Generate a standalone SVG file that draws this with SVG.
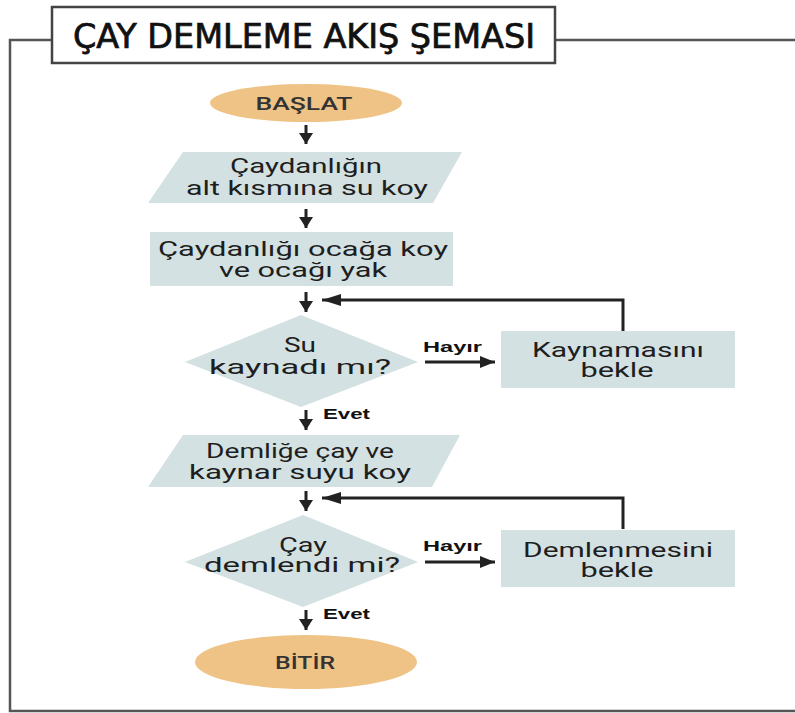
<svg xmlns="http://www.w3.org/2000/svg" width="795" height="713" viewBox="0 0 795 713">
<style>
  .frame { fill: none; stroke: #555; stroke-width: 2.5; }
  .node { fill: #d3e1e2; }
  .term { fill: #efc386; }
  .t { font-family: Roboto, "Liberation Sans", sans-serif; font-size: 20px; fill: #1e1e1e; text-anchor: middle; }
  .tt { font-family: Roboto, "Liberation Sans", sans-serif; font-size: 18px; fill: #333; text-anchor: middle; font-weight: 500; }
  .lbl { font-family: "Liberation Sans", Arial, sans-serif; font-size: 15px; font-weight: bold; fill: #111; }
  .title { font-family: "DejaVu Sans", sans-serif; font-size: 34px; fill: #111; font-stretch: condensed; stroke: #111; stroke-width: 0.7; }
  .c { stroke: #222; stroke-width: 3; fill: none; }
</style>
<defs>
  <marker id="ad" markerUnits="userSpaceOnUse" markerWidth="14" markerHeight="14" refX="11" refY="7" orient="auto">
    <path d="M0,0 L11,7 L0,14 z" fill="#222"/>
  </marker>
  <marker id="ah" markerUnits="userSpaceOnUse" markerWidth="16" markerHeight="12" refX="15" refY="6" orient="auto">
    <path d="M0,0 L15,6 L0,12 z" fill="#222"/>
  </marker>
  <marker id="af" markerUnits="userSpaceOnUse" markerWidth="20" markerHeight="12" refX="19" refY="6" orient="auto">
    <path d="M0,0 L19,6 L0,12 z" fill="#222"/>
  </marker>
</defs>
<rect width="795" height="713" fill="#ffffff"/>

<g id="frame">
  <polyline class="frame" points="52,40 10,40 10,711 795,711"/>
  <line class="frame" x1="555" y1="40" x2="795" y2="40"/>
  <rect x="52" y="7" width="503" height="56" fill="#fff" stroke="#444" stroke-width="2.5"/>
  <text class="title" x="304" y="48" text-anchor="middle" textLength="462" lengthAdjust="spacingAndGlyphs">ÇAY DEMLEME AKIŞ ŞEMASI</text>
</g>

<g id="connectors">
  <line class="c" x1="306" y1="125" x2="306" y2="144" marker-end="url(#ad)"/>
  <line class="c" x1="306" y1="209" x2="306" y2="228" marker-end="url(#ad)"/>
  <line class="c" x1="306" y1="292" x2="306" y2="312" marker-end="url(#ad)"/>
  <polyline class="c" points="623,331 623,300 322,300" marker-end="url(#af)"/>
  <line class="c" x1="425" y1="362" x2="495" y2="362" stroke-width="2.5" marker-end="url(#ah)"/>
  <line class="c" x1="306" y1="410" x2="306" y2="430" marker-end="url(#ad)"/>
  <line class="c" x1="306" y1="491" x2="306" y2="511" marker-end="url(#ad)"/>
  <polyline class="c" points="623,529 623,498 322,498" marker-end="url(#af)"/>
  <line class="c" x1="425" y1="562" x2="495" y2="562" stroke-width="2.5" marker-end="url(#ah)"/>
  <line class="c" x1="306" y1="610" x2="306" y2="630" marker-end="url(#ad)"/>
  <text class="lbl" x="423" y="352" textLength="59" lengthAdjust="spacingAndGlyphs">Hayır</text>
  <text class="lbl" x="323" y="419" textLength="47" lengthAdjust="spacingAndGlyphs">Evet</text>
  <text class="lbl" x="423" y="551" textLength="59" lengthAdjust="spacingAndGlyphs">Hayır</text>
  <text class="lbl" x="323" y="619" textLength="47" lengthAdjust="spacingAndGlyphs">Evet</text>
</g>

<g id="start">
  <ellipse class="term" cx="306" cy="103" rx="96" ry="19"/>
  <text class="tt" x="304" y="110" textLength="97" lengthAdjust="spacingAndGlyphs">BAŞLAT</text>
</g>

<g id="input1">
  <polygon class="node" points="183,152 462,152 433,203 148,203"/>
  <text class="t" x="306" y="173" textLength="152" lengthAdjust="spacingAndGlyphs">Çaydanlığın</text>
  <text class="t" x="307" y="195" textLength="242" lengthAdjust="spacingAndGlyphs">alt kısmına su koy</text>
</g>

<g id="process1">
  <rect class="node" x="150" y="232" width="303" height="54"/>
  <text class="t" x="303" y="256" textLength="290" lengthAdjust="spacingAndGlyphs">Çaydanlığı ocağa koy</text>
  <text class="t" x="303" y="277" textLength="168" lengthAdjust="spacingAndGlyphs">ve ocağı yak</text>
</g>

<g id="decision1">
  <polygon class="node" points="185,362 301,315 418,362 301,407"/>
  <text class="t" x="300" y="352" textLength="32" lengthAdjust="spacingAndGlyphs">Su</text>
  <text class="t" x="300" y="374" textLength="182" lengthAdjust="spacingAndGlyphs">kaynadı mı?</text>
</g>

<g id="wait1">
  <rect class="node" x="501" y="331" width="234" height="57"/>
  <text class="t" x="618" y="357" textLength="172" lengthAdjust="spacingAndGlyphs">Kaynamasını</text>
  <text class="t" x="617" y="377" textLength="73" lengthAdjust="spacingAndGlyphs">bekle</text>
</g>

<g id="input2">
  <polygon class="node" points="183,435 460,435 432,487 148,487"/>
  <text class="t" x="300" y="458" textLength="188" lengthAdjust="spacingAndGlyphs">Demliğe çay ve</text>
  <text class="t" x="300" y="479" textLength="222" lengthAdjust="spacingAndGlyphs">kaynar suyu koy</text>
</g>

<g id="decision2">
  <polygon class="node" points="185,562 303,515 418,562 303,607"/>
  <text class="t" x="303" y="552" textLength="48" lengthAdjust="spacingAndGlyphs">Çay</text>
  <text class="t" x="302" y="572" textLength="196" lengthAdjust="spacingAndGlyphs">demlendi mi?</text>
</g>

<g id="wait2">
  <rect class="node" x="501" y="530" width="234" height="57"/>
  <text class="t" x="618" y="557" textLength="190" lengthAdjust="spacingAndGlyphs">Demlenmesini</text>
  <text class="t" x="617" y="577" textLength="73" lengthAdjust="spacingAndGlyphs">bekle</text>
</g>

<g id="end">
  <ellipse class="term" cx="306" cy="662" rx="111" ry="27"/>
  <text class="tt" x="305" y="669" textLength="60" lengthAdjust="spacingAndGlyphs">BİTİR</text>
</g>
</svg>
